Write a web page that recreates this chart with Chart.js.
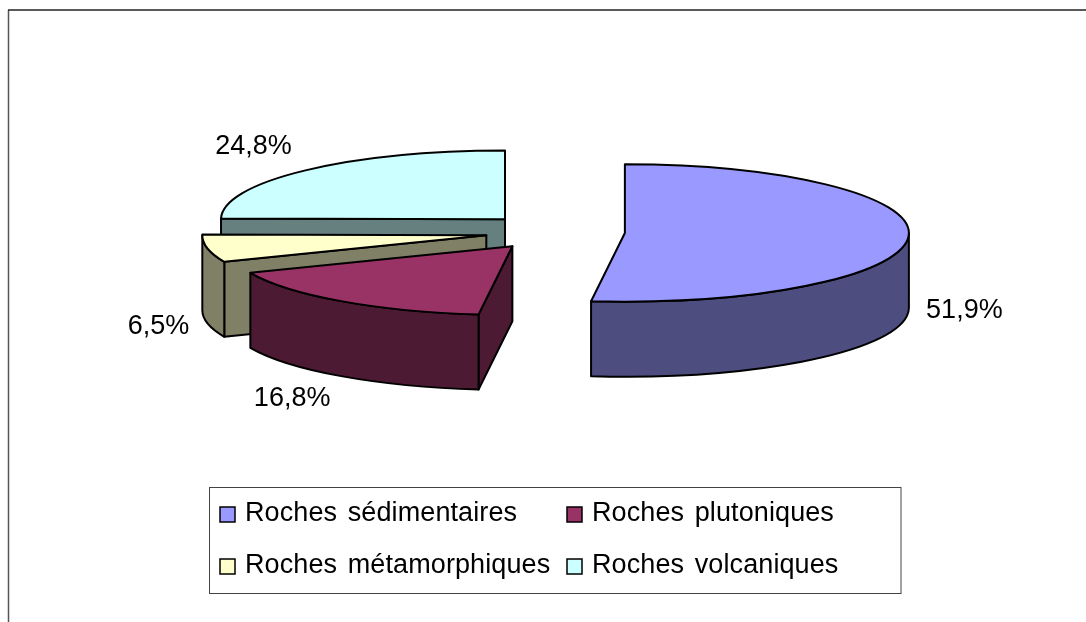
<!DOCTYPE html>
<html>
<head>
<meta charset="utf-8">
<style>
  html, body { margin: 0; padding: 0; background: #fff; overflow: hidden; }
  canvas { display: block; }
</style>
<script src="https://cdn.jsdelivr.net/npm/chart.js@4"></script>
</head>
<body>
<canvas id="roches" width="1086" height="622"></canvas>
<script>
var categories = ['Roches sédimentaires', 'Roches plutoniques', 'Roches métamorphiques', 'Roches volcaniques'];
var values = [51.9, 16.8, 6.5, 24.8];
var topColors = ['#9999ff', '#993366', '#ffffcc', '#ccffff'];
var sideColors = ['#4d4d80', '#4d1a33', '#808066', '#668080'];

// how far each slice is pulled out of the pie, before squashing
var explode = [68, 74, 72, 74];
// label position relative to the middle of the slice's rim
var labelNudge = [[56, 73], [-49, 97], [-49, 78], [-52, -24]];
// row-major like the original legend: [marker x, text x, text baseline]
var legendCells = [[220, 245, 521], [567, 592, 521], [220, 245, 573], [567, 592, 573]];

var squash = 0.242;
var depth = 75;
var font = '27px "Liberation Sans", Arial, sans-serif';

function midY(chart) {
	return (chart.chartArea.top + chart.chartArea.bottom) / 2;
}

function flatY(chart, y) {
	var c = midY(chart);
	return c + (y - c) * squash;
}

function sidePath(ctx, x, y, r, a, b) {
	// the wall under a stretch of rim
	ctx.beginPath();
	ctx.ellipse(x, y, r, r * squash, 0, a, b);
	ctx.ellipse(x, y + depth, r, r * squash, 0, b, a, true);
	ctx.closePath();
}

var pie3d = {
	id: 'pie3d',
	afterDatasetsUpdate: function (chart) {
		chart.getDatasetMeta(0).data.forEach(function (arc, i) {
			var mid = (arc.startAngle + arc.endAngle) / 2;
			arc.x += Math.cos(mid) * explode[i];
			arc.y += Math.sin(mid) * explode[i];
		});
	},
	beforeDatasetsDraw: function (chart) {
		var ctx = chart.ctx;
		var arcs = chart.getDatasetMeta(0).data;
		ctx.save();
		ctx.lineWidth = 2;
		ctx.strokeStyle = '#000';
		ctx.lineJoin = 'round';
		// back to front: volcaniques, metamorphiques, plutoniques, sedimentaires
		[3, 2, 1, 0].forEach(function (i) {
			var arc = arcs[i];
			var x = arc.x, y = flatY(chart, arc.y), r = arc.outerRadius;
			var a = arc.startAngle, b = arc.endAngle;
			ctx.fillStyle = sideColors[i];
			[a, b].forEach(function (ang, n) {
				var facing = n == 0 ? Math.cos(ang) < -0.001 : Math.cos(ang) > 0.001;
				if (!facing) return;
				var ex = x + Math.cos(ang) * r, ey = y + Math.sin(ang) * r * squash;
				ctx.beginPath();
				ctx.moveTo(x, y);
				ctx.lineTo(ex, ey);
				ctx.lineTo(ex, ey + depth);
				ctx.lineTo(x, y + depth);
				ctx.closePath();
				ctx.fill();
				ctx.stroke();
			});
			var from = Math.max(a, 0), to = Math.min(b, Math.PI);
			if (to > from) {
				sidePath(ctx, x, y, r, from, to);
				ctx.fill();
				ctx.stroke();
			}
		});
		ctx.restore();
		// chart.js paints the top faces inside this squash
		ctx.save();
		var c = midY(chart);
		ctx.translate(0, c);
		ctx.scale(1, squash);
		ctx.translate(0, -c);
	},
	afterDatasetsDraw: function (chart) {
		var ctx = chart.ctx;
		var arcs = chart.getDatasetMeta(0).data;
		ctx.restore();
		ctx.save();
		ctx.lineWidth = 2;
		ctx.strokeStyle = '#000';
		ctx.lineJoin = 'round';
		arcs.forEach(function (arc) {
			var y = flatY(chart, arc.y), r = arc.outerRadius;
			ctx.beginPath();
			ctx.moveTo(arc.x, y);
			ctx.ellipse(arc.x, y, r, r * squash, 0, arc.startAngle, arc.endAngle);
			ctx.closePath();
			ctx.stroke();
		});
		ctx.fillStyle = '#000';
		ctx.font = font;
		ctx.textAlign = 'center';
		ctx.textBaseline = 'middle';
		arcs.forEach(function (arc, i) {
			var mid = (arc.startAngle + arc.endAngle) / 2;
			var y = flatY(chart, arc.y), r = arc.outerRadius;
			var text = values[i].toFixed(1).replace('.', ',') + '%';
			ctx.fillText(text,
				arc.x + Math.cos(mid) * r + labelNudge[i][0],
				y + Math.sin(mid) * r * squash + labelNudge[i][1]);
		});
		ctx.restore();
	},
	afterDraw: function (chart) {
		var ctx = chart.ctx;
		ctx.save();
		// outer frame, open on the right and at the bottom
		ctx.strokeStyle = '#555';
		ctx.lineWidth = 1.5;
		ctx.beginPath();
		ctx.moveTo(8.5, 622);
		ctx.lineTo(8.5, 10);
		ctx.stroke();
		ctx.strokeStyle = '#222';
		ctx.lineWidth = 1.5;
		ctx.beginPath();
		ctx.moveTo(8, 10);
		ctx.lineTo(1086, 10);
		ctx.stroke();
		// legend box
		ctx.strokeStyle = '#444';
		ctx.lineWidth = 1;
		ctx.strokeRect(209.5, 487.5, 691.5, 106);
		ctx.font = font;
		ctx.textAlign = 'left';
		ctx.textBaseline = 'alphabetic';
		ctx.wordSpacing = '3px';
		ctx.letterSpacing = '0.1px';
		categories.forEach(function (name, i) {
			var cell = legendCells[i];
			ctx.fillStyle = topColors[i];
			ctx.strokeStyle = '#000';
			ctx.lineWidth = 1.5;
			ctx.fillRect(cell[0], cell[2] - 14, 15, 15);
			ctx.strokeRect(cell[0], cell[2] - 14, 15, 15);
			ctx.fillStyle = '#000';
			ctx.fillText(name, cell[1], cell[2]);
		});
		ctx.restore();
	}
};

var ctx = document.getElementById('roches').getContext('2d');
var chart = new Chart(ctx, {
	type: 'pie',
	data: {
		labels: categories,
		datasets: [{
			data: values,
			backgroundColor: topColors,
			borderWidth: 0,
			clip: false
		}]
	},
	options: {
		responsive: false,
		animation: false,
		radius: 284,
		layout: { padding: { left: 28, bottom: 158 } },
		plugins: {
			legend: { display: false },
			tooltip: { enabled: false }
		}
	},
	plugins: [pie3d]
});
</script>
</body>
</html>
